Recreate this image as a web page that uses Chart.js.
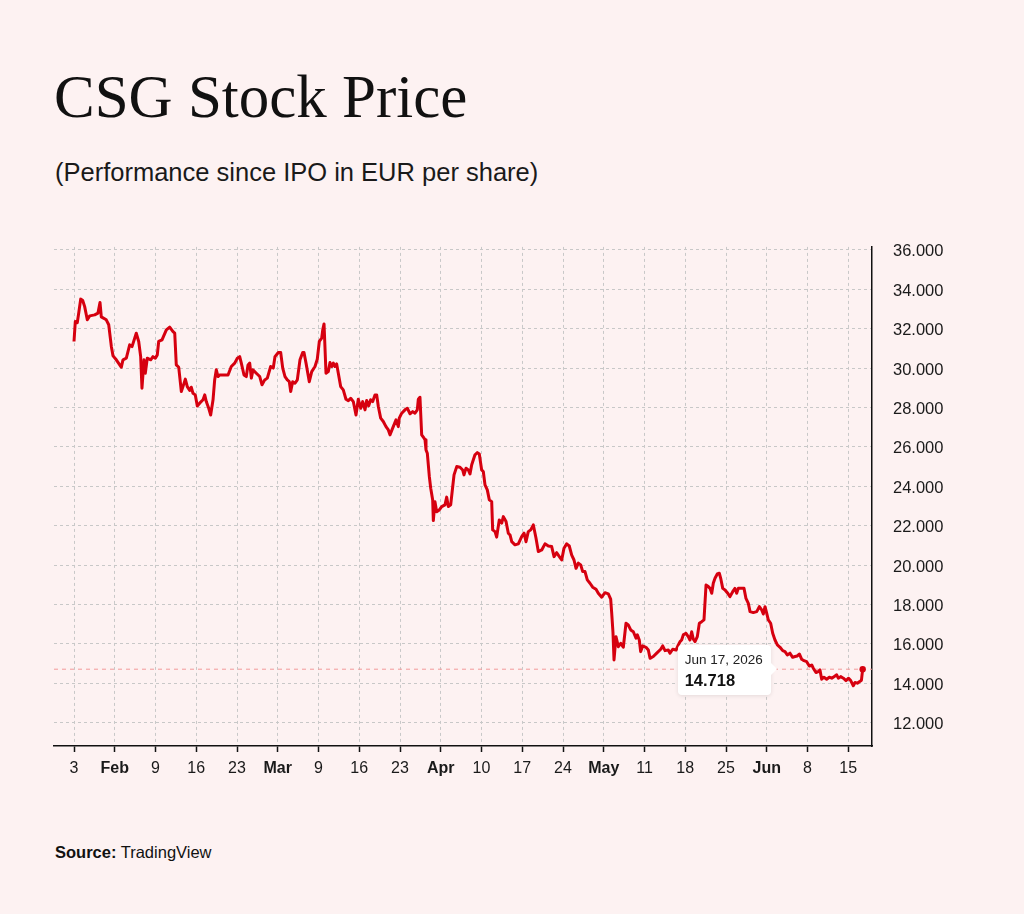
<!DOCTYPE html>
<html><head><meta charset="utf-8">
<script src="https://cdn.jsdelivr.net/npm/chart.js@4.4.1/dist/chart.umd.min.js"></script>
<style>
html,body{margin:0;padding:0;background:#fdf2f2;}
body{width:1024px;height:914px;position:relative;overflow:hidden;font-family:"Liberation Sans",Arial,sans-serif;color:#111;}
#title{position:absolute;left:54px;top:66px;font-family:"Liberation Serif","Times New Roman",serif;font-size:61px;line-height:61px;white-space:nowrap;color:#111;}
#subtitle{position:absolute;left:55px;top:160px;font-size:25.5px;line-height:25.5px;white-space:nowrap;color:#1a1a1a;}
#source{position:absolute;left:55px;top:844px;font-size:16.5px;line-height:16.5px;white-space:nowrap;color:#111;}
#wrap{position:absolute;left:0;top:216px;width:1024px;height:584px;}
#tip{position:absolute;background:#fff;border-radius:4px;box-shadow:0 1px 4px rgba(0,0,0,0.10);width:93px;height:50px;}
#tip:after{content:"";position:absolute;right:-6px;top:18px;border-top:6px solid transparent;border-bottom:6px solid transparent;border-left:6px solid #fff;}
#tipDate{position:absolute;left:7px;top:8px;font-size:13.5px;line-height:13.5px;white-space:nowrap;color:#222;}
#tipVal{position:absolute;left:7px;top:27px;font-size:16.5px;line-height:16.5px;font-weight:bold;white-space:nowrap;color:#111;}
</style></head>
<body>
<div id="title">CSG Stock Price</div>
<div id="subtitle">(Performance since IPO in EUR per share)</div>
<div id="wrap"><canvas id="c"></canvas></div>
<div id="tip"><div id="tipDate"></div><div id="tipVal"></div></div>
<div id="source"><b>Source:</b> TradingView</div>
<script>
const tickDays = [0,5,10,15,20,25,30,35,40,45,50,55,60,65,70,75,80,85,90,95];
const tickLabels = ["3","Feb","9","16","23","Mar","9","16","23","Apr","10","17","24","May","11","18","25","Jun","8","15"];
const monthLabels = ["Feb","Mar","Apr","May","Jun"];
const priceTicks = [12,14,16,18,20,22,24,26,28,30,32,34,36];
const lastDate = "Jun 17, 2026";
const lastPrice = 14.718;

const tradingDay = [
0.00,0.16,0.40,0.58,0.82,1.07,1.31,1.63,1.93,2.54,
2.94,3.19,3.35,3.96,4.26,4.58,4.79,5.19,5.61,5.80,
6.01,6.42,6.83,7.12,7.64,7.94,8.18,8.34,8.59,8.75,
8.99,9.41,9.69,9.98,10.22,10.39,10.80,11.33,11.74,12.15,
12.36,12.55,12.85,13.17,13.37,13.66,13.90,14.20,14.39,14.60,
14.88,15.13,15.42,15.83,16.04,16.23,16.53,16.77,17.06,17.26,
17.46,17.67,17.88,18.28,18.90,19.30,19.72,20.04,20.33,20.53,
20.86,21.14,21.35,21.56,21.76,21.96,22.37,22.79,23.07,23.40,
23.72,24.13,24.45,24.66,25.07,25.36,25.61,25.89,26.17,26.42,
26.59,26.83,27.12,27.40,27.73,28.06,28.22,28.47,28.87,29.17,
29.57,29.85,30.10,30.39,30.52,30.68,30.92,31.20,31.41,31.62,
31.82,32.02,32.23,32.43,32.72,33.04,33.37,33.66,33.95,34.27,
34.60,34.88,35.18,35.42,35.71,35.91,36.16,36.40,36.65,36.93,
37.14,37.34,37.63,37.95,38.28,38.57,38.77,39.10,39.51,39.79,
39.91,40.21,40.61,40.90,41.23,41.56,41.84,42.12,42.25,42.45,
42.66,42.95,43.07,43.19,43.35,43.60,43.77,44.01,44.09,44.29,
44.50,44.82,45.12,45.52,45.73,45.93,46.22,46.47,46.63,46.96,
47.36,47.69,47.85,48.10,48.38,48.59,48.80,49.20,49.49,49.73,
50.02,50.22,50.43,50.71,50.96,51.25,51.37,51.66,51.86,52.18,
52.48,52.68,53.01,53.29,53.50,53.71,54.11,54.52,54.93,55.22,
55.46,55.74,56.04,56.36,56.69,56.97,57.39,57.79,58.20,58.61,
58.90,59.23,59.55,59.84,60.12,60.45,60.77,61.07,61.35,61.60,
61.88,62.17,62.42,62.70,62.98,63.31,63.64,64.05,64.33,64.75,
65.15,65.56,65.85,65.97,66.13,66.26,66.50,66.79,67.08,67.40,
67.73,68.01,68.31,68.63,68.96,69.12,69.36,69.53,69.78,70.18,
70.47,70.68,71.08,71.50,71.99,72.23,72.52,72.92,73.13,73.46,
73.87,74.15,74.36,74.56,74.76,75.09,75.37,75.58,75.79,75.99,
76.20,76.48,76.73,77.02,77.30,77.55,77.83,78.04,78.25,78.44,
78.65,78.93,79.18,79.35,79.60,79.88,80.16,80.49,80.82,81.10,
81.31,81.51,81.93,82.21,82.45,82.74,82.95,83.35,83.77,84.09,
84.38,84.58,84.79,84.99,85.19,85.48,85.73,86.01,86.30,86.63,
86.96,87.24,87.52,87.85,88.18,88.47,88.75,89.00,89.29,89.57,
89.90,90.22,90.52,90.71,91.04,91.33,91.53,91.74,92.02,92.35,
92.67,92.97,93.25,93.58,93.78,94.07,94.40,94.72,95.04,95.30,
95.62,95.83,96.12,96.40,96.62,96.77
];

const closePrice = [
31.35,32.36,32.30,32.80,33.50,33.43,33.12,32.45,32.65,32.70,
32.79,33.33,32.60,32.45,32.20,31.10,30.62,30.42,30.16,30.04,
30.42,30.50,31.18,31.09,31.77,31.35,30.58,28.98,30.42,29.74,
30.50,30.42,30.58,30.50,30.67,31.35,31.43,31.94,32.08,31.85,
31.77,30.16,30.04,28.81,29.06,29.44,29.06,28.86,29.03,28.72,
28.64,28.08,28.22,28.39,28.64,28.30,27.96,27.62,28.39,29.40,
29.91,29.57,29.65,29.65,29.65,30.08,30.25,30.50,30.58,30.25,
29.65,29.57,30.16,30.25,29.49,29.91,29.74,29.57,29.15,29.40,
29.49,30.08,30.00,30.58,30.79,30.79,30.00,29.57,29.40,29.31,
28.81,29.31,29.23,29.40,30.42,30.79,30.79,30.25,29.31,29.82,
30.08,30.45,31.35,31.52,31.94,32.24,29.74,29.82,30.28,30.08,
30.25,30.08,30.21,29.74,29.06,28.89,28.42,28.35,28.47,28.30,
27.62,28.42,27.96,28.30,27.88,28.35,28.08,28.39,28.30,28.64,
28.64,28.05,27.46,27.29,27.03,26.86,26.61,26.95,27.37,27.03,
27.46,27.71,27.88,27.96,27.68,27.79,27.71,27.88,28.42,28.52,
26.61,26.44,26.36,25.85,25.68,24.49,23.90,23.31,22.26,23.22,
22.71,22.80,22.97,23.06,23.45,22.97,23.06,23.99,24.58,25.00,
24.97,24.83,24.58,24.92,24.83,24.63,25.09,25.60,25.71,25.64,
24.83,24.75,24.07,23.82,23.31,23.22,21.79,21.70,21.42,22.29,
22.13,22.46,22.21,21.62,21.53,21.19,21.03,21.08,21.45,21.62,
21.19,21.70,21.79,22.04,21.36,20.69,20.77,21.08,20.97,20.94,
20.43,20.63,20.43,20.26,20.86,21.08,20.97,20.51,20.26,19.84,
20.10,20.01,19.67,19.67,19.25,19.08,18.88,18.77,18.57,18.37,
18.60,18.54,18.27,17.60,16.60,15.19,16.37,15.86,16.03,15.83,
17.05,16.96,16.71,16.62,16.29,16.46,16.20,15.61,15.90,15.83,
15.69,15.27,15.36,15.53,15.73,15.90,15.66,15.69,15.53,15.73,
15.69,15.95,16.12,16.20,16.46,16.54,16.37,16.20,16.62,16.24,
16.12,16.37,17.05,17.13,17.22,18.99,18.91,18.82,18.57,19.08,
19.33,19.55,19.59,19.33,18.82,18.74,18.60,18.40,18.65,18.82,
18.57,18.82,18.82,18.82,18.31,18.06,17.64,17.59,17.64,17.89,
17.73,17.52,17.89,17.56,17.22,17.05,16.54,16.20,15.95,15.83,
15.66,15.61,15.44,15.53,15.32,15.36,15.39,15.49,15.22,15.15,
15.10,14.88,14.93,14.77,14.55,14.60,14.68,14.21,14.31,14.21,
14.31,14.26,14.34,14.43,14.26,14.34,14.26,14.14,14.26,14.14,
13.88,14.04,14.01,14.09,14.16,14.718
];

const lineRed = '#d6000f';
const gridGrey = '#c8c8c8';
const axisBlack = '#111111';
const n = closePrice.length;

const lastLine = {
  id: 'lastLine',
  beforeDatasetsDraw(chart) {
    const {ctx, chartArea, scales} = chart;
    const y = scales.y.getPixelForValue(lastPrice);
    ctx.save();
    ctx.strokeStyle = '#f29a9a';
    ctx.lineWidth = 1;
    ctx.setLineDash([4, 4]);
    ctx.beginPath();
    ctx.moveTo(chartArea.left, y);
    ctx.lineTo(chartArea.right, y);
    ctx.stroke();
    ctx.restore();
  },
  afterDraw(chart) {
    const px = chart.scales.x.getPixelForValue(tradingDay[n - 1]);
    const py = chart.scales.y.getPixelForValue(lastPrice);
    const tip = document.getElementById('tip');
    const wrap = document.getElementById('wrap');
    tip.style.left = (wrap.offsetLeft + px - 185) + 'px';
    tip.style.top = (wrap.offsetTop + py - 24) + 'px';
    document.getElementById('tipDate').textContent = lastDate;
    document.getElementById('tipVal').textContent = lastPrice.toFixed(3);
  }
};

new Chart(document.getElementById('c'), {
  type: 'line',
  data: {
    datasets: [{
      data: tradingDay.map((d, i) => ({x: d, y: closePrice[i]})),
      borderColor: lineRed,
      backgroundColor: lineRed,
      borderWidth: 3,
      borderJoinStyle: 'round',
      tension: 0,
      pointRadius: ctx => ctx.dataIndex === n - 1 ? 3.2 : 0,
      pointBackgroundColor: lineRed,
      pointBorderWidth: 0,
      clip: false
    }]
  },
  options: {
    responsive: true,
    maintainAspectRatio: false,
    animation: false,
    events: [],
    layout: {padding: {left: 54, top: 3, right: 0, bottom: 0}},
    plugins: {legend: {display: false}, tooltip: {enabled: false}},
    scales: {
      x: {
        type: 'linear',
        min: -2.454,
        max: 97.914,
        afterBuildTicks: s => { s.ticks = tickDays.map(v => ({value: v})); },
        afterFit: s => { s.height = 54; },
        grid: {color: gridGrey, lineWidth: 1, drawTicks: true, tickLength: 6, tickColor: axisBlack, tickWidth: 1.5},
        border: {display: true, color: axisBlack, width: 1.5, dash: [3, 3]},
        ticks: {
          autoSkip: false, maxRotation: 0, minRotation: 0, padding: 7, color: '#1a1a1a',
          font: ctx => ({family: '"Liberation Sans", Arial, sans-serif', size: 16,
            weight: (ctx.tick && monthLabels.includes(tickLabels[ctx.index])) ? 'bold' : 'normal'}),
          callback: (v, i) => tickLabels[i]
        }
      },
      y: {
        position: 'right',
        min: 10.82,
        max: 36.15,
        afterBuildTicks: s => { s.ticks = priceTicks.map(v => ({value: v})); },
        afterFit: s => { s.width = 152; },
        grid: {color: gridGrey, lineWidth: 1, drawTicks: false},
        border: {display: true, color: axisBlack, width: 1.5, dash: [3, 3]},
        ticks: {
          padding: 21, labelOffset: 2, color: '#1a1a1a',
          font: {family: '"Liberation Sans", Arial, sans-serif', size: 16.5},
          callback: v => Number(v).toFixed(3)
        }
      }
    }
  },
  plugins: [lastLine]
});
</script>
</body></html>
